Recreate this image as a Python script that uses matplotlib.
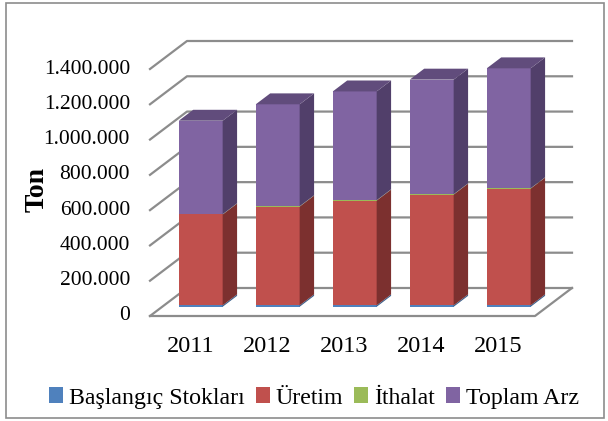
import matplotlib.pyplot as plt
from matplotlib.patches import Polygon, Rectangle, Patch

plt.rcParams['font.family'] = ['Liberation Serif', 'DejaVu Serif']

# data (ton)
years = ['2011', '2012', '2013', '2014', '2015']
baslangic = [8000, 8000, 8000, 8000, 8000]
uretim = [515000, 560000, 594000, 628000, 662000]
ithalat = [1500, 1500, 1500, 1500, 1500]
toplam = [530000, 578000, 617000, 650000, 680000]
yticks = [0, 200000, 400000, 600000, 800000, 1000000, 1200000, 1400000]

series = [
    ('Başlangıç Stokları', baslangic, '#4F81BD', '#3A5F8B', '#4470A5'),
    ('Üretim', uretim, '#C0504D', '#7C302F', '#9A3D3B'),
    ('İthalat', ithalat, '#9BBB59', '#6E8A3C', '#84A049'),
    ('Toplam Arz', toplam, '#8064A2', '#513F6A', '#614C7C'),
]

fig = plt.figure(figsize=(6.08, 4.21), dpi=100)
W, H = 608, 421
ax = fig.add_axes([150 / W, (H - 316) / H, 385 / W, 247 / H])
ax.set_xlim(0, 5)
ax.set_ylim(0, 1400000)
ax.axis('off')

# oblique depth vector in data units
DX = 37 / 77
DY = 28 * 1400000 / 247
grid_c = '#8C8C8C'

# walls: side + back gridlines
for v in yticks:
    ax.plot([0, DX, 5 + DX], [v, v + DY, v + DY], color=grid_c, lw=1.6,
            clip_on=False, zorder=1)
# floor
ax.plot([0, 5, 5 + DX], [0, 0, DY], color=grid_c, lw=1.6, clip_on=False, zorder=1)

# bars
d0, dd, w = 0.33, 0.39, 0.57
for i in range(len(years)):
    xl = i + 0.5 - w / 2 + d0 * DX
    xr = xl + w
    oy = d0 * DY
    bottom = 0
    segs = [(s[1][i], s[2], s[3], s[4]) for s in series]
    for k, (val, cf, cs, ct) in enumerate(segs):
        top = bottom + val
        ax.add_patch(Polygon([(xl, bottom + oy), (xr, bottom + oy), (xr, top + oy), (xl, top + oy)],
                             closed=True, facecolor=cf, edgecolor='none', clip_on=False, zorder=3))
        ax.add_patch(Polygon([(xr, bottom + oy), (xr + dd * DX, bottom + oy + dd * DY),
                              (xr + dd * DX, top + oy + dd * DY), (xr, top + oy)],
                             closed=True, facecolor=cs, edgecolor='none', clip_on=False, zorder=3))
        if k == len(segs) - 1:
            ax.add_patch(Polygon([(xl, top + oy), (xr, top + oy), (xr + dd * DX, top + oy + dd * DY),
                                  (xl + dd * DX, top + oy + dd * DY)],
                                 closed=True, facecolor=ct, edgecolor='none', clip_on=False, zorder=3))
        bottom = top

# tick labels
for v in yticks:
    lab = f'{v:,}'.replace(',', '.')
    ax.annotate(lab, xy=(0, v), xytext=(-20, 0), textcoords='offset pixels',
                ha='right', va='center', fontsize=15.5, annotation_clip=False)
for i, yr in enumerate(years):
    ax.annotate(yr, xy=(i + 0.5, 0), xytext=(2, -30), textcoords='offset pixels',
                ha='center', va='center', fontsize=17.5, annotation_clip=False)

fig.text(37 / W, 1 - 190 / H, 'Ton', rotation=90, ha='center', va='center',
         fontsize=20, fontweight='bold')

handles = [Patch(facecolor=s[2], edgecolor='none', label=s[0]) for s in series]
fig.legend(handles=handles, loc='center', bbox_to_anchor=(314 / W, 1 - 398 / H), ncol=4,
           frameon=False, fontsize=17.2, handlelength=0.6, handleheight=0.6,
           handletextpad=0.25, columnspacing=0.45, borderpad=0)

fig.patches.append(Rectangle((6 / W, 3 / H), 598 / W, 415 / H, transform=fig.transFigure,
                             fill=False, edgecolor='#8C8C8C', lw=1.2))

fig.savefig('out.png', dpi=100)
